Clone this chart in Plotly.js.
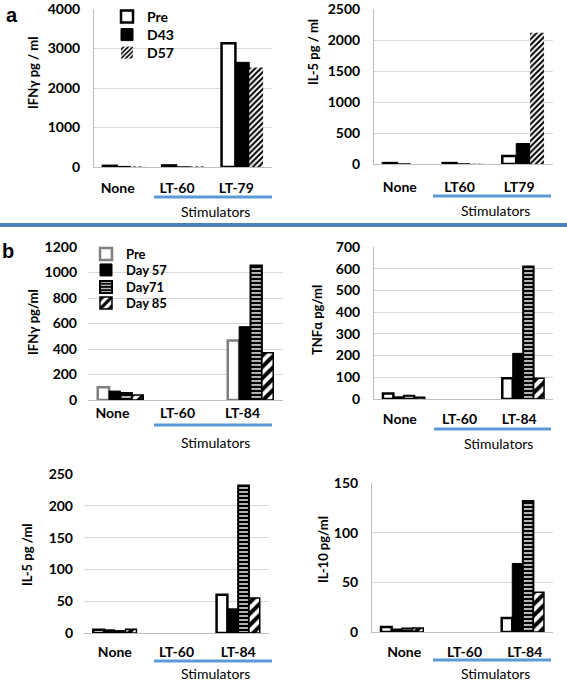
<!DOCTYPE html>
<html><head><meta charset="utf-8">
<script src="https://cdn.plot.ly/plotly-3.0.1.min.js"></script>
<style>html,body{margin:0;padding:0;background:#fff}#c{width:567px;height:682px}</style>
</head><body><div id="c"></div>
<script>
// ---- data ----
const catsA1 = ['None', 'LT-60', 'LT-79'];
const ifnA_pre = [30, 40, 3130];
const ifnA_d43 = [15, 0, 2650];
const ifnA_d57 = [15, 15, 2520];

const catsA2 = ['None', 'LT60', 'LT79'];
const il5A_pre = [15, 15, 130];
const il5A_d43 = [0, 0, 330];
const il5A_d57 = [0, 5, 2115];

const catsB = ['None', 'LT-60', 'LT-84'];
const ifnB_pre = [100, null, 467];
const ifnB_d57 = [70, null, 575];
const ifnB_d71 = [55, null, 1055];
const ifnB_d85 = [40, null, 370];

const tnfB_pre = [25, null, 95];
const tnfB_d57 = [10, null, 210];
const tnfB_d71 = [15, null, 610];
const tnfB_d85 = [8, null, 95];

const il5B_pre = [5, null, 60];
const il5B_d57 = [5, null, 38];
const il5B_d71 = [3, null, 232];
const il5B_d85 = [6, null, 55];

const il10B_pre = [5, null, 14];
const il10B_d57 = [3, null, 69];
const il10B_d71 = [3.5, null, 132];
const il10B_d85 = [4, null, 40];

const namesA = ['Pre', 'D43', 'D57'];
const namesB = ['Pre', 'Day 57', 'Day71', 'Day 85'];

// ---- styles ----
const W = 567, H = 682;
const FONT = 'Lato, "Open Sans", sans-serif';
const stylePre = (col) => ({color: 'white', line: {color: col, width: 2.5}});
const styleBlack = {color: 'black', line: {color: 'black', width: 1}};
const styleThinHatch = {color: 'white', line: {width: 0},
  pattern: {shape: '/', fgcolor: 'black', bgcolor: 'white', size: 4, solidity: 0.5}};
const styleStripes = {color: 'black', line: {color: 'black', width: 2},
  pattern: {shape: '-', fgcolor: 'white', bgcolor: 'black', size: 4, solidity: 0.35}};
const styleThickHatch = {color: 'white', line: {color: 'black', width: 1.5},
  pattern: {shape: '/', fgcolor: 'black', bgcolor: 'white', size: 8, solidity: 0.5}};

const traces = [];
function add(cats, vals, name, marker, ax, legend, show) {
  traces.push({type: 'bar', x: cats, y: vals, name: name, marker: marker,
    xaxis: 'x' + ax, yaxis: 'y' + ax, legend: legend, showlegend: show,
    hoverinfo: 'y'});
}
// panel a
add(catsA1, ifnA_pre, namesA[0], stylePre('black'), '', 'legend', true);
add(catsA1, ifnA_d43, namesA[1], styleBlack, '', 'legend2', true);
add(catsA1, ifnA_d57, namesA[2], styleThinHatch, '', 'legend3', true);
add(catsA2, il5A_pre, namesA[0], stylePre('black'), '2', 'legend', false);
add(catsA2, il5A_d43, namesA[1], styleBlack, '2', 'legend2', false);
add(catsA2, il5A_d57, namesA[2], styleThinHatch, '2', 'legend3', false);
// panel b
const bSets = [
  ['3', [ifnB_pre, ifnB_d57, ifnB_d71, ifnB_d85], '#7f7f7f', true],
  ['4', [tnfB_pre, tnfB_d57, tnfB_d71, tnfB_d85], 'black', false],
  ['5', [il5B_pre, il5B_d57, il5B_d71, il5B_d85], 'black', false],
  ['6', [il10B_pre, il10B_d57, il10B_d71, il10B_d85], 'black', false],
];
bSets.forEach(([ax, s, preCol, show]) => {
  add(catsB, s[0], namesB[0], stylePre(preCol), ax, 'legend4', show);
  add(catsB, s[1], namesB[1], styleBlack, ax, 'legend5', show);
  add(catsB, s[2], namesB[2], styleStripes, ax, 'legend6', show);
  add(catsB, s[3], namesB[3], styleThickHatch, ax, 'legend7', show);
});

// plot areas in pixels: [x0, x1, yTop, yBottom]
const areas = {
  '':  [94, 272, 9, 167],
  '2': [374, 553, 9, 164],
  '3': [88, 283, 247, 400],
  '4': [374, 553, 247, 399],
  '5': [84, 269, 474, 633],
  '6': [372, 553, 483, 632],
};
const yr = {'': [0, 4000, 1000], '2': [0, 2500, 500], '3': [0, 1200, 200],
  '4': [0, 700, 100], '5': [0, 250, 50], '6': [0, 150, 50]};
const ylines = {'': true, '2': true, '3': false, '4': true, '5': false, '6': true};
const xshift = {'': -6, '2': -4, '3': -8, '4': -4, '5': 0, '6': 2};
const xstand = {'': 8, '2': 10, '3': 0, '4': 7, '5': 6, '6': 7};

const layout = {
  width: W, height: H, margin: {l: 0, r: 0, t: 0, b: 0},
  paper_bgcolor: 'white', plot_bgcolor: 'white',
  barmode: 'group', bargap: 0.3, bargroupgap: 0,
  font: {family: FONT, size: 12, color: 'black'},
  annotations: [], shapes: []
};
// one legend per entry, placed at the reference positions [x, yCenter, size]
const legPos = [
  [107, 17, 14], [107, 35, 14], [107, 53, 14],
  [86, 254, 13], [86, 270, 13], [86, 287, 13], [86, 303, 13]
];
legPos.forEach(([x, y, fs], i) => {
  layout[i === 0 ? 'legend' : 'legend' + (i + 1)] = {
    x: x / W, y: 1 - y / H, xanchor: 'left', yanchor: 'middle',
    bgcolor: 'rgba(0,0,0,0)', font: {family: FONT, size: fs, weight: 'bold'},
    itemwidth: 30, borderwidth: 0
  };
});
Object.keys(areas).forEach(ax => {
  const [x0, x1, t, b] = areas[ax];
  layout['xaxis' + ax] = {
    domain: [x0 / W, x1 / W], anchor: 'y' + ax, type: 'category',
    showline: true, linecolor: '#bfbfbf', linewidth: 1, showgrid: false,
    ticks: '', tickfont: {family: FONT, size: 14, weight: 'bold'},
    ticklabelshift: xshift[ax], ticklabelstandoff: xstand[ax], fixedrange: true
  };
  layout['yaxis' + ax] = {
    domain: [1 - b / H, 1 - t / H], anchor: 'x' + ax,
    range: [yr[ax][0], yr[ax][1]], dtick: yr[ax][2], tick0: 0,
    showgrid: true, gridcolor: '#d9d9d9', gridwidth: 1, zeroline: false,
    showline: ylines[ax], linecolor: '#bfbfbf', linewidth: 1,
    ticks: '', tickfont: {family: FONT, size: 14, weight: 'bold'},
    ticklabelstandoff: 10, ticklabeloverflow: 'allow', fixedrange: true
  };
});

// y-axis titles (annotations in paper px)
const ytitles = [
  ['IFNγ pg / ml', 33, 73], ['IL-5 pg / ml', 313, 52],
  ['IFNγ pg/ml', 33, 322], ['TNFα pg/ml', 317, 320],
  ['IL-5 pg /ml', 27, 555], ['IL-10 pg/ml', 323, 550]
];
ytitles.forEach(([txt, x, y]) => layout.annotations.push({
  text: txt, xref: 'paper', yref: 'paper', x: x / W, y: 1 - y / H,
  xanchor: 'center', yanchor: 'middle', textangle: -90, showarrow: false,
  font: {family: FONT, size: 13, weight: 'bold'}
}));
// Stimulators labels + blue lines
const stim = [
  [215, 212, 154, 272, 197], [495, 211, 433, 551, 196],
  [215, 442, 154, 272, 425], [498, 443, 434, 551, 429],
  [215, 673, 154, 272, 661], [495, 673, 433, 551, 660]
];
stim.forEach(([tx, ty, l0, l1, ly]) => {
  layout.annotations.push({text: 'Stimulators', xref: 'paper', yref: 'paper',
    x: tx / W, y: 1 - ty / H, xanchor: 'center', yanchor: 'middle', showarrow: false,
    font: {family: FONT, size: 14}});
  layout.shapes.push({type: 'line', xref: 'paper', yref: 'paper',
    x0: l0 / W, x1: l1 / W, y0: 1 - ly / H, y1: 1 - ly / H,
    line: {color: '#5b9bd5', width: 3}});
});
// separator
layout.shapes.push({type: 'line', xref: 'paper', yref: 'paper', x0: 0, x1: 1,
  y0: 1 - 225 / H, y1: 1 - 225 / H, line: {color: '#4f81bd', width: 4}});
// panel letters
[['a', 12, 15], ['b', 8, 251]].forEach(([t, x, y]) => layout.annotations.push({
  text: t, xref: 'paper', yref: 'paper', x: x / W, y: 1 - y / H,
  xanchor: 'center', yanchor: 'middle', showarrow: false,
  font: {family: 'Liberation Sans, Arial, sans-serif', size: 20, weight: 'bold'}
}));

Plotly.newPlot('c', traces, layout, {displayModeBar: false, staticPlot: true});
</script></body></html>
